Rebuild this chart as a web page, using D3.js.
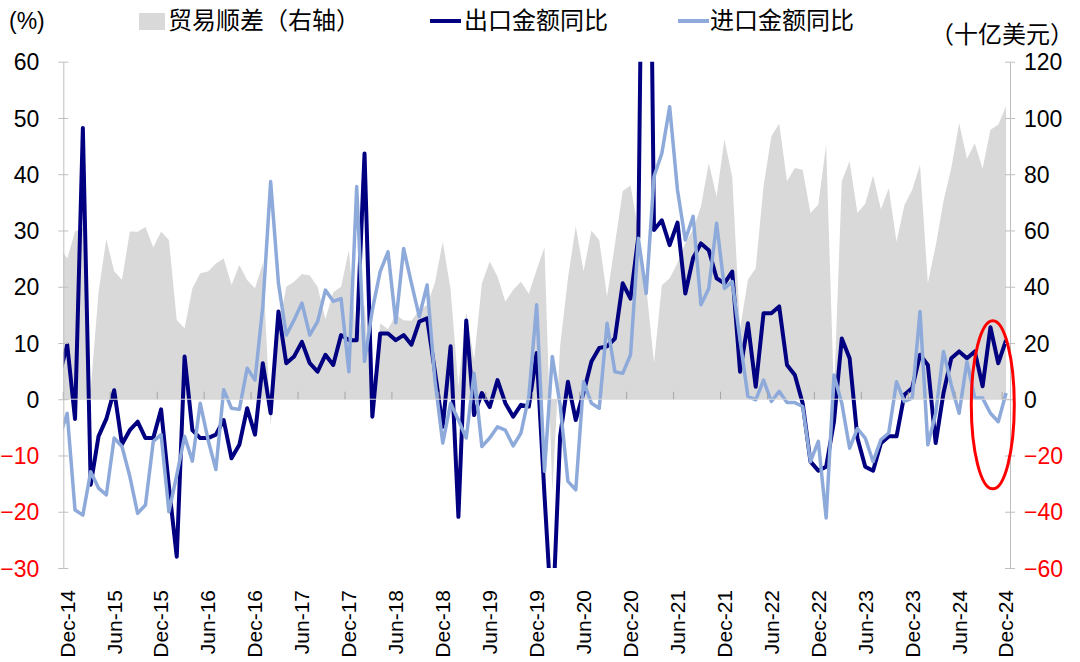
<!DOCTYPE html>
<html>
<head>
<meta charset="utf-8">
<script src="https://cdn.jsdelivr.net/npm/d3@7"></script>
<style>
  html, body { margin: 0; padding: 0; background: #fff; }
  #chart { width: 1080px; height: 662px; }
</style>
</head>
<body>
<div id="chart"></div>
<script>
// monthly values Nov-14 .. Dec-24 (Nov-14 only shows as a stub cut off by the left axis)
var exportYoY = [
  4.3, 9.7,
  -3.5, 48.2, -15.2, -6.6, -3.5, 1.6, -8.0, -5.5, -4.0, -6.9, -6.9, -1.8,     // 2015
  -15.5, -28.0, 7.6, -5.5, -6.9, -6.9, -6.3, -3.7, -10.5, -8.1, -1.6, -6.3,   // 2016
  6.4, -2.5, 15.6, 6.4, 7.6, 10.2, 6.4, 4.9, 7.9, 6.1, 11.4, 10.5,            // 2017
  10.5, 43.7, -3.1, 11.7, 11.7, 10.5, 11.4, 9.7, 13.8, 14.4, 4.9, -4.9,       // 2018
  9.4, -20.9, 14.0, -2.8, 1.1, -1.4, 3.4, -0.7, -3.1, -1.0, -1.3, 8.2,        // 2019
  -17.0, -40.6, -6.6, 3.1, -3.7, 1.2, 6.7, 9.1, 9.4, 10.8, 20.6, 17.9,        // 2020
  28.9, 154.9, 30.1, 31.8, 27.4, 31.4, 18.8, 25.1, 27.7, 26.5, 21.5, 20.6,    // 2021
  22.7, 4.9, 13.5, 2.2, 15.3, 15.3, 16.5, 6.1, 4.3, -0.7, -11.1, -12.7,       // 2022
  -12.0, -4.0, 10.8, 7.3, -6.9, -12.0, -12.7, -7.8, -6.6, -6.6, 0.8, 2.0,     // 2023
  7.9, 6.1, -7.8, 1.1, 7.3, 8.5, 7.3, 8.5, 2.3, 12.8, 6.4, 10.5               // 2024
]
var importYoY = [
  -6.8, -2.5,
  -19.7, -20.6, -12.9, -15.8, -17.0, -6.9, -8.4, -13.7, -20.3, -18.8, -7.5, -6.3,
  -20.0, -13.5, -6.6, -11.0, -0.7, -7.2, -12.5, 1.7, -1.6, -1.8, 5.5, 3.4,
  16.5, 38.7, 20.6, 11.4, 14.1, 17.1, 11.4, 13.8, 19.4, 17.4, 17.9, 4.9,
  37.8, 6.7, 15.9, 22.7, 26.2, 13.6, 26.8, 20.6, 14.7, 20.3, 3.4, -7.8,
  -0.7, -3.7, -6.9, 4.6, -8.4, -6.9, -4.9, -5.5, -8.3, -6.0, 0.5, 16.8,
  -12.8, 7.6, -1.0, -14.6, -16.1, 3.1, -0.7, -1.6, 13.5, 4.9, 4.6, 7.9,
  28.6, 18.8, 39.6, 43.7, 52.0, 37.2, 28.3, 32.5, 16.8, 19.7, 31.3, 19.7,
  20.9, 10.5, 0.5, -0.1, 3.4, -0.4, 1.4, -0.6, -0.6, -1.3, -11.1, -7.5,
  -21.1, 4.3, -0.7, -8.7, -5.2, -6.9, -11.1, -7.2, -6.0, 3.1, -0.4, 0.2,
  15.6, -8.1, -2.5, 8.5, 2.5, -2.5, 6.7, 0.2, 0.2, -2.5, -4.0, 1.1
]
// trade balance, bn USD (right axis)
var tradeBalance = [
  54.5, 50.0,
  59.6, 61.0, 3.0, 38.0, 57.0, 45.5, 42.5, 59.6, 59.5, 61.2, 54.0, 59.5,
  56.6, 28.2, 25.2, 39.5, 44.8, 45.4, 48.3, 50.0, 40.6, 47.7, 42.4, 39.5,
  48.3, -9.5, 25.0, 40.0, 41.8, 44.5, 44.0, 40.0, 28.5, 38.0, 40.0, 53.0,
  20.3, 33.7, -5.0, 27.0, 24.9, 30.0, 28.1, 27.9, 31.7, 33.5, 41.4, 56.0,
  39.0, 4.5, 31.0, 14.0, 41.2, 49.0, 43.6, 34.7, 38.9, 41.8, 37.5, 46.0,
  54.0, -33.0, 19.0, 43.0, 61.5, 45.5, 60.0, 56.5, 36.5, 55.0, 74.0, 76.0,
  60.0, 40.0, 13.0, 40.5, 43.0, 48.4, 55.5, 60.3, 68.6, 84.0, 72.1, 92.3,
  79.0, 25.0, 42.5, 46.6, 75.7, 93.5, 98.0, 77.5, 82.2, 81.6, 66.2, 69.2,
  90.5, 1.5, 77.5, 84.6, 66.2, 69.5, 79.5, 67.5, 75.0, 56.0, 69.0, 74.5,
  83.4, 41.3, 54.5, 70.5, 82.2, 98.2, 85.5, 90.9, 82.0, 95.8, 97.6, 104.2
]
var xTickLabels = ["Dec-14", "Jun-15", "Dec-15", "Jun-16", "Dec-16", "Jun-17", "Dec-17",
  "Jun-18", "Dec-18", "Jun-19", "Dec-19", "Jun-20", "Dec-20", "Jun-21", "Dec-21",
  "Jun-22", "Dec-22", "Jun-23", "Dec-23", "Jun-24", "Dec-24"]
var leftTicks = [-30, -20, -10, 0, 10, 20, 30, 40, 50, 60]
var rightTicks = [-60, -40, -20, 0, 20, 40, 60, 80, 100, 120]
var legendNames = ["贸易顺差（右轴）", "出口金额同比", "进口金额同比"]

var width = 1080, height = 662
var latin = "'Liberation Sans', Arial, sans-serif"
var cjk = "'Noto Sans CJK SC', 'Noto Sans', sans-serif"
var colGray = "#d9d9d9", colDark = "#000080", colLight = "#8eaadb"

let svg = d3.select("div#chart").append("svg").attr("width", width).attr("height", height)

var plot = {left: 63.3, right: 1010, top: 61.7, bottom: 568}

// month index: 0 = Dec-14, -1 = Nov-14
var x = d3.scaleLinear().domain([-0.5, 120.5]).range([plot.left, plot.right])
var yL = d3.scaleLinear().domain([-30, 60]).range([plot.bottom, plot.top])
var yR = d3.scaleLinear().domain([-60, 120]).range([plot.bottom, plot.top])

var data = exportYoY.map((d, i) => ({i: i - 1, ex: d, im: importYoY[i], bal: tradeBalance[i]}))

svg.append("clipPath").attr("id", "clip").append("rect")
    .attr("x", plot.left).attr("y", plot.top)
    .attr("width", plot.right - plot.left).attr("height", plot.bottom - plot.top)

var g = svg.append("g").attr("clip-path", "url(#clip)")

// trade balance area
g.append("path").datum(data)
    .attr("fill", colGray)
    .attr("d", d3.area().x(d => x(d.i)).y0(yR(0)).y1(d => yR(d.bal)))

// zero line + category ticks every 6 months
svg.append("line")
    .attr("x1", plot.left).attr("x2", plot.right)
    .attr("y1", yL(0)).attr("y2", yL(0))
    .attr("stroke", colGray).attr("stroke-width", 1)

svg.append("g").selectAll("line").data(xTickLabels).join("line")
    .attr("x1", (d, k) => x(6 * k - 0.5)).attr("x2", (d, k) => x(6 * k - 0.5))
    .attr("y1", yL(0) - 7.5).attr("y2", yL(0))
    .attr("stroke", "#a6a6a6").attr("stroke-width", 1)

// lines
var lineEx = d3.line().x(d => x(d.i)).y(d => yL(d.ex))
var lineIm = d3.line().x(d => x(d.i)).y(d => yL(d.im))

g.append("path").datum(data)
    .attr("fill", "none").attr("stroke", colDark).attr("stroke-width", 4)
    .attr("stroke-linejoin", "round")
    .attr("d", lineEx)

g.append("path").datum(data)
    .attr("fill", "none").attr("stroke", colLight).attr("stroke-width", 3.5)
    .attr("stroke-linejoin", "round")
    .attr("d", lineIm)

// left axis
var axL = svg.append("g").attr("transform", `translate(${plot.left},0)`)
    .call(d3.axisLeft(yL).tickValues(leftTicks).tickSize(5).tickSizeOuter(0).tickPadding(19))
    .attr("font-size", 23).attr("font-family", latin)
axL.select(".domain").attr("stroke", "#bfbfbf")
axL.selectAll(".tick line").attr("x1", 5).attr("x2", -5).attr("stroke", "#bfbfbf")
axL.selectAll(".tick text").attr("fill", d => d < 0 ? "#ff0000" : "#000").attr("dy", "0.35em")

// right axis
var axR = svg.append("g").attr("transform", `translate(${plot.right},0)`)
    .call(d3.axisRight(yR).tickValues(rightTicks).tickSize(5).tickSizeOuter(0).tickPadding(9))
    .attr("font-size", 23).attr("font-family", latin)
axR.select(".domain").attr("stroke", "#bfbfbf")
axR.selectAll(".tick line").attr("x1", -5).attr("x2", 5).attr("stroke", "#bfbfbf")
axR.selectAll(".tick text").attr("fill", d => d < 0 ? "#ff0000" : "#000").attr("dy", "0.35em")

// x labels at the bottom, rotated
svg.append("g").selectAll("text").data(xTickLabels).join("text")
    .attr("transform", (d, k) => `translate(${x(6 * k)},590) rotate(-90)`)
    .attr("text-anchor", "end").attr("dy", "0.35em")
    .attr("font-family", latin).attr("font-size", 21).attr("fill", "#000")
    .text(d => d)

// axis units
svg.append("text").attr("x", 9).attr("y", 29)
    .attr("font-family", latin).attr("font-size", 23).text("(%)")
svg.append("text").attr("x", 1002).attr("y", 43).attr("text-anchor", "middle")
    .attr("font-family", cjk).attr("font-size", 24).text("（十亿美元）")

// legend
var leg = svg.append("g").attr("font-family", cjk).attr("font-size", 24)
leg.append("rect").attr("x", 139).attr("y", 13).attr("width", 26).attr("height", 17).attr("fill", colGray)
leg.append("text").attr("x", 168).attr("y", 29).text(legendNames[0])
leg.append("line").attr("x1", 430).attr("x2", 461).attr("y1", 21).attr("y2", 21)
    .attr("stroke", colDark).attr("stroke-width", 4)
leg.append("text").attr("x", 464).attr("y", 29).text(legendNames[1])
leg.append("line").attr("x1", 678).attr("x2", 709).attr("y1", 21).attr("y2", 21)
    .attr("stroke", colLight).attr("stroke-width", 4)
leg.append("text").attr("x", 710).attr("y", 29).text(legendNames[2])

// red ring around the latest months
svg.append("ellipse")
    .attr("cx", x(118.3)).attr("cy", yL(-1))
    .attr("rx", 21.5).attr("ry", 84)
    .attr("fill", "none").attr("stroke", "#ff0000").attr("stroke-width", 3)
</script>
</body>
</html>
